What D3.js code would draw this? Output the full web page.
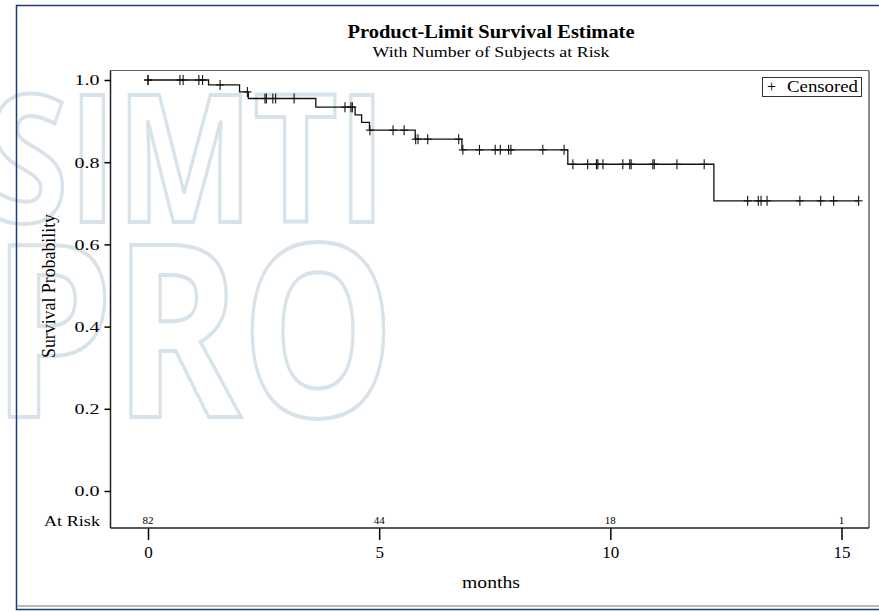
<!DOCTYPE html>
<html lang="en">
<head>
    <meta charset="UTF-8">
    <title>Product-Limit Survival Estimate</title>
    <style>
        body {
            margin: 0;
            overflow: hidden;
            background: white;
        }
        .axis line {
            stroke: black;
            stroke-width: 1.5;
        }
    </style>
    <script src="https://d3js.org/d3.v7.min.js"></script>
</head>
<body>
    <div id="chart"></div>
    <script>
        // step times (months) and survival after each step
        const stepTimes = [0, 1.31, 1.98, 2.17, 3.63, 4.48, 4.62, 4.79, 5.78, 6.79, 9.08, 12.24];
        const stepSurv  = [1.0, 0.988, 0.971, 0.955, 0.934, 0.915, 0.897, 0.878, 0.856, 0.830, 0.795, 0.706];
        const lastTime = 15.37;

        // censored observations (months)
        const censoredTimes = [0, 0, 0.69, 0.76, 1.10, 1.18, 1.56, 2.15, 2.53, 2.56, 2.70, 2.76, 3.16,
            4.26, 4.39, 4.42, 4.80, 5.30, 5.54, 5.79, 5.84, 6.05, 6.72, 6.81, 7.17, 7.51, 7.62,
            7.80, 7.85, 8.54, 9.00, 9.19, 9.51, 9.70, 9.73, 9.84, 10.27, 10.42, 10.45, 10.92,
            10.95, 11.44, 12.03, 12.97, 13.20, 13.26, 13.39, 14.10, 14.55, 14.83, 15.37];

        const riskTimes = [0, 5, 10, 15];
        const riskCounts = [82, 44, 18, 1];

        const xTicks = [0, 5, 10, 15];
        const yTicks = [0, 0.2, 0.4, 0.6, 0.8, 1.0];

        const W = 879, H = 612;
        const serif = "'Liberation Serif', 'Times New Roman', serif";
        const box = { left: 110.5, top: 70.5, right: 869, bottom: 528 };

        const svg = d3.select("#chart")
            .append("svg")
            .attr("width", W)
            .attr("height", H)
            .attr("font-family", serif);

        const x = d3.scaleLinear().domain([0, 15]).range([148, 841.5]);
        const y = d3.scaleLinear().domain([0, 1]).range([491, 80]);

        // watermark
        const wm = svg.append("g")
            .attr("fill", "none")
            .attr("stroke", "#d8e3e9")
            .attr("stroke-width", 4)
            .attr("font-family", "'Open Sans', sans-serif")
            .attr("font-weight", 700);
        wm.append("text")
            .attr("x", -12).attr("y", 222)
            .attr("font-size", 178)
            .attr("textLength", 398)
            .attr("lengthAdjust", "spacingAndGlyphs")
            .text("SIMTI");
        wm.append("text")
            .attr("x", -8).attr("y", 417)
            .attr("font-size", 240)
            .attr("textLength", 403)
            .attr("lengthAdjust", "spacingAndGlyphs")
            .text("PRO");

        // outer frame
        svg.append("rect")
            .attr("x", 16.5).attr("y", 5.5)
            .attr("width", 900).attr("height", 604)
            .attr("fill", "none")
            .attr("stroke", "#1f3b73")
            .attr("stroke-width", 1.5);
        svg.append("line")
            .attr("x1", 16.5).attr("x2", W)
            .attr("y1", 606).attr("y2", 606)
            .attr("stroke", "#777");

        // plot box
        svg.append("line")
            .attr("x1", box.left).attr("x2", box.right)
            .attr("y1", box.top).attr("y2", box.top)
            .attr("stroke", "#666");
        svg.append("line")
            .attr("x1", box.right).attr("x2", box.right)
            .attr("y1", box.top).attr("y2", box.bottom)
            .attr("stroke", "#666").attr("stroke-width", 1.5);
        svg.append("line")
            .attr("x1", box.left).attr("x2", box.left)
            .attr("y1", box.top).attr("y2", box.bottom)
            .attr("stroke", "#222").attr("stroke-width", 1.5);
        svg.append("line")
            .attr("x1", box.left).attr("x2", box.right)
            .attr("y1", box.bottom).attr("y2", box.bottom)
            .attr("stroke", "#222").attr("stroke-width", 1.5);

        // y axis
        const yAxis = svg.append("g")
            .attr("class", "axis")
            .attr("transform", `translate(${box.left},0)`)
            .call(d3.axisLeft(y).tickValues(yTicks).tickFormat(d3.format(".1f")).tickSize(6).tickPadding(5));
        yAxis.attr("font-family", serif);
        yAxis.select(".domain").remove();
        yAxis.selectAll("text")
            .attr("font-size", 15)
            .attr("fill", "black")
            .attr("textLength", 25)
            .attr("lengthAdjust", "spacingAndGlyphs");

        // x axis
        const xAxis = svg.append("g")
            .attr("class", "axis")
            .attr("transform", `translate(0,${box.bottom})`)
            .call(d3.axisBottom(x).tickValues(xTicks).tickSize(12).tickPadding(6));
        xAxis.attr("font-family", serif);
        xAxis.select(".domain").remove();
        xAxis.selectAll("text")
            .attr("font-size", 17)
            .attr("fill", "black");

        // titles
        svg.append("text")
            .attr("x", 491).attr("y", 38)
            .attr("text-anchor", "middle")
            .attr("font-size", 18.5)
            .attr("font-weight", "bold")
            .attr("textLength", 287)
            .attr("lengthAdjust", "spacingAndGlyphs")
            .text("Product-Limit Survival Estimate");
        svg.append("text")
            .attr("x", 491).attr("y", 57)
            .attr("text-anchor", "middle")
            .attr("font-size", 15)
            .attr("textLength", 237)
            .attr("lengthAdjust", "spacingAndGlyphs")
            .text("With Number of Subjects at Risk");

        svg.append("text")
            .attr("transform", "translate(55,286) rotate(-90)")
            .attr("text-anchor", "middle")
            .attr("font-size", 18)
            .attr("textLength", 144)
            .attr("lengthAdjust", "spacingAndGlyphs")
            .text("Survival Probability");

        svg.append("text")
            .attr("x", 491).attr("y", 588)
            .attr("text-anchor", "middle")
            .attr("font-size", 17)
            .attr("textLength", 58)
            .attr("lengthAdjust", "spacingAndGlyphs")
            .text("months");

        // at risk row
        svg.append("text")
            .attr("x", 100).attr("y", 526)
            .attr("text-anchor", "end")
            .attr("font-size", 15)
            .attr("textLength", 56)
            .attr("lengthAdjust", "spacingAndGlyphs")
            .text("At Risk");
        svg.selectAll(".risk")
            .data(riskTimes)
            .enter()
            .append("text")
            .attr("class", "risk")
            .attr("x", d => x(d))
            .attr("y", 524)
            .attr("text-anchor", "middle")
            .attr("font-size", 11)
            .text((d, i) => riskCounts[i]);

        // survival curve
        const steps = stepTimes.map((t, i) => [t, stepSurv[i]]);
        steps.push([lastTime, stepSurv[stepSurv.length - 1]]);

        const line = d3.line()
            .x(d => x(d[0]))
            .y(d => y(d[1]))
            .curve(d3.curveStepAfter);

        svg.append("path")
            .datum(steps)
            .attr("d", line)
            .attr("fill", "none")
            .attr("stroke", "#111")
            .attr("stroke-width", 1.3);

        function survAt(t) {
            let s = stepSurv[0];
            stepTimes.forEach((st, i) => { if (t >= st) s = stepSurv[i]; });
            return s;
        }

        const cross = svg.selectAll(".censor")
            .data(censoredTimes)
            .enter()
            .append("g")
            .attr("class", "censor")
            .attr("transform", d => `translate(${x(d)},${y(survAt(d))})`)
            .attr("stroke", "#111")
            .attr("stroke-width", 1.1);
        cross.append("line").attr("x1", -4).attr("x2", 4).attr("y1", 0).attr("y2", 0);
        cross.append("line").attr("x1", 0).attr("x2", 0).attr("y1", -5).attr("y2", 5);

        // legend
        svg.append("rect")
            .attr("x", 762.5).attr("y", 77.5)
            .attr("width", 99).attr("height", 19)
            .attr("fill", "white")
            .attr("stroke", "#333");
        svg.append("text")
            .attr("x", 767).attr("y", 92)
            .attr("font-size", 16)
            .text("+");
        svg.append("text")
            .attr("x", 787).attr("y", 92)
            .attr("font-size", 16)
            .attr("textLength", 71)
            .attr("lengthAdjust", "spacingAndGlyphs")
            .text("Censored");
    </script>
</body>
</html>
